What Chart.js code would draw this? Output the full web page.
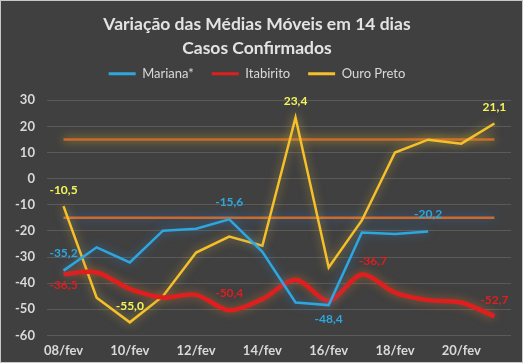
<!DOCTYPE html>
<html>
<head>
<meta charset="utf-8">
<script src="https://cdn.jsdelivr.net/npm/chart.js@4"></script>
<style>
  html, body { margin: 0; padding: 0; background: #404040; }
  #wrap { position: relative; width: 523px; height: 363px; background: #404040; }
  #wrap:after { content: ''; position: absolute; left: 0; top: 0; right: 0; bottom: 0; border: 1px solid #c8c8c8; pointer-events: none; }
</style>
</head>
<body>
<div id="wrap"><canvas id="chart"></canvas></div>
<script>
var days = ['08/fev', '09/fev', '10/fev', '11/fev', '12/fev', '13/fev', '14/fev',
            '15/fev', '16/fev', '17/fev', '18/fev', '19/fev', '20/fev', '21/fev'];

var mariana = [-35.2, -26.3, -32.1, -19.9, -19.2, -15.6, -28.0, -47.4, -48.4, -20.6, -21.2, -20.2, null, null];
var itabirito = [-36.5, -35.9, -42.2, -45.5, -44.5, -50.4, -46.1, -38.7, -46.7, -36.7, -43.6, -46.5, -47.4, -52.7];
var ouroPreto = [-10.5, -45.6, -55.0, -45.0, -28.3, -22.2, -25.7, 23.4, -34.0, -16.0, 10.0, 14.9, 13.4, 21.1];

// faixas de referencia
var limiteSup = days.map(function() { return 15; });
var limiteInf = days.map(function() { return -15; });

var BLUE = '#2ea6de';
var RED = '#e01e1e';
var YELLOW = '#f5c02a';
var ORANGE = '#cd6a2a';
var FONT = 'Lato, "Open Sans", sans-serif';

function fmt(v) {
  return v.toFixed(1).replace('.', ',');
}

// glow em volta das linhas
var glowPlugin = {
  id: 'glow',
  beforeDatasetDraw: function(chart, args) {
    var ds = chart.data.datasets[args.index];
    var ctx = chart.ctx;
    ctx.save();
    ctx.shadowColor = ds.glow;
    ctx.shadowBlur = 10;
  },
  afterDatasetDraw: function(chart) {
    chart.ctx.restore();
  }
};

// espaco extra abaixo da legenda
var legendGap = {
  id: 'legendGap',
  beforeLayout: function(chart) {
    var lg = chart.legend;
    if (lg && !lg._gap) {
      var fit = lg.fit;
      lg.fit = function() {
        fit.call(this);
        this.height += 10;
      };
      lg._gap = true;
    }
  }
};

// rotulos de dados (dataset, indice, deslocamento)
var rotulos = [
  {ds: 0, i: 0, dx: 0, dy: -17, color: BLUE},
  {ds: 0, i: 5, dx: 0, dy: -17, color: BLUE},
  {ds: 0, i: 8, dx: 0, dy: 14, color: BLUE},
  {ds: 0, i: 11, dx: 0, dy: -17, color: BLUE},
  {ds: 1, i: 0, dx: 0, dy: 11, color: RED},
  {ds: 1, i: 5, dx: 0, dy: -17, color: RED},
  {ds: 1, i: 9, dx: 11, dy: -13, color: RED},
  {ds: 1, i: 13, dx: 0, dy: -16, color: RED},
  {ds: 2, i: 0, dx: 0, dy: -16, color: '#f4f45a'},
  {ds: 2, i: 2, dx: 0, dy: -16, color: '#f4f45a'},
  {ds: 2, i: 7, dx: 0, dy: -16, color: '#f4f45a'},
  {ds: 2, i: 13, dx: 0, dy: -16, color: '#f4f45a'},
];

var labelPlugin = {
  id: 'rotulos',
  afterDatasetsDraw: function(chart) {
    var ctx = chart.ctx;
    ctx.save();
    ctx.font = 'bold 12px ' + FONT;
    ctx.textAlign = 'center';
    ctx.textBaseline = 'middle';
    rotulos.forEach(function(r) {
      var pt = chart.getDatasetMeta(r.ds).data[r.i];
      var v = chart.data.datasets[r.ds].data[r.i];
      ctx.fillStyle = r.color;
      ctx.fillText(fmt(v), pt.x + r.dx, pt.y + r.dy);
    });
    ctx.restore();
  }
};

var ctx = document.getElementById('chart').getContext('2d');
var chart = new Chart(ctx, {
  type: 'line',
  data: {
    labels: days,
    datasets: [
      {
        label: 'Mariana*',
        data: mariana,
        borderColor: BLUE,
        backgroundColor: BLUE,
        borderWidth: 2.5,
        pointRadius: 0,
        glow: 'rgba(46,140,220,0.6)'
      },
      {
        label: 'Itabirito',
        data: itabirito,
        borderColor: RED,
        backgroundColor: RED,
        borderWidth: 4.5,
        tension: 0.3,
        pointRadius: 0,
        glow: 'rgba(230,120,40,0.55)'
      },
      {
        label: 'Ouro Preto',
        data: ouroPreto,
        borderColor: YELLOW,
        backgroundColor: YELLOW,
        borderWidth: 2.5,
        pointRadius: 0,
        glow: 'rgba(245,200,60,0.55)'
      },
      {
        label: 'lim15',
        data: limiteSup,
        borderColor: ORANGE,
        borderWidth: 2.5,
        pointRadius: 0,
        glow: 'rgba(240,200,40,0.8)'
      },
      {
        label: 'lim-15',
        data: limiteInf,
        borderColor: ORANGE,
        borderWidth: 2.5,
        pointRadius: 0,
        glow: 'rgba(40,110,200,0.8)'
      }
    ]
  },
  options: {
    responsive: true,
    maintainAspectRatio: false,
    animation: false,
    layout: {
      padding: {left: 3, right: 12, top: 9, bottom: -4}
    },
    plugins: {
      title: {
        display: true,
        text: ['Variação das Médias Móveis em 14 dias', 'Casos Confirmados'],
        color: '#e3e3e3',
        font: {family: FONT, size: 17.5, weight: 'bold', lineHeight: 1.35},
        padding: {top: 4, bottom: -11}
      },
      legend: {
        display: true,
        labels: {
          color: '#d9d9d9',
          font: {family: FONT, size: 13},
          boxWidth: 27,
          boxHeight: 3,
          padding: 18,
          generateLabels: function(chart) {
            return Chart.defaults.plugins.legend.labels.generateLabels(chart)
              .filter(function(l) { return l.datasetIndex < 3; })
              .map(function(l) {
                l.fillStyle = l.strokeStyle;
                l.lineWidth = 0;
                return l;
              });
          }
        }
      },
      tooltip: {enabled: false}
    },
    scales: {
      x: {
        offset: true,
        grid: {display: false, drawTicks: false},
        border: {display: false},
        ticks: {
          color: '#d9d9d9',
          font: {family: FONT, size: 13, weight: 'bold'},
          padding: 8,
          autoSkip: false,
          maxRotation: 0,
          callback: function(val, i) {
            return i % 2 === 0 ? days[i] : '';
          }
        }
      },
      y: {
        min: -60,
        max: 30,
        grid: {color: '#5a5a5a', lineWidth: 1, drawTicks: false},
        border: {display: false},
        ticks: {
          stepSize: 10,
          color: '#d9d9d9',
          font: {family: FONT, size: 13, weight: 'bold'},
          padding: 12
        }
      }
    }
  },
  plugins: [glowPlugin, labelPlugin, legendGap]
});
</script>
</body>
</html>
